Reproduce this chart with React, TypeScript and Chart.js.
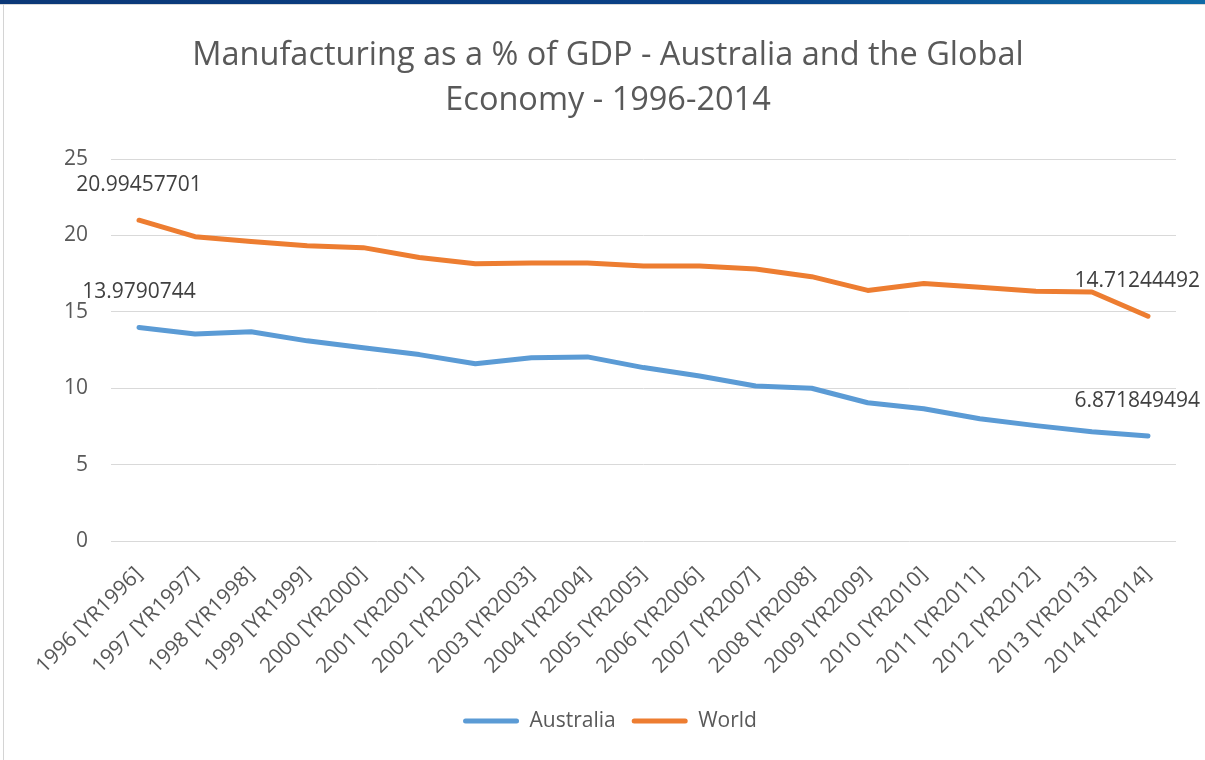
import React, { useEffect, useRef } from "react";
import { Chart, registerables } from "chart.js";

Chart.register(...registerables);

const categories = [
  "1996 [YR1996]", "1997 [YR1997]", "1998 [YR1998]", "1999 [YR1999]", "2000 [YR2000]",
  "2001 [YR2001]", "2002 [YR2002]", "2003 [YR2003]", "2004 [YR2004]", "2005 [YR2005]",
  "2006 [YR2006]", "2007 [YR2007]", "2008 [YR2008]", "2009 [YR2009]", "2010 [YR2010]",
  "2011 [YR2011]", "2012 [YR2012]", "2013 [YR2013]", "2014 [YR2014]",
];

const australia = [
  13.9790744, 13.55, 13.7, 13.1, 12.65, 12.2, 11.6, 12.0, 12.05, 11.35,
  10.8, 10.15, 10.0, 9.05, 8.65, 8.0, 7.55, 7.15, 6.871849494,
];

const world = [
  20.99457701, 19.92, 19.6, 19.33, 19.2, 18.55, 18.15, 18.2, 18.2, 18.0,
  18.0, 17.8, 17.3, 16.4, 16.85, 16.6, 16.35, 16.3, 14.71244492,
];

const endLabels = [
  ["13.9790744", "6.871849494"],
  ["20.99457701", "14.71244492"],
];

const titleLines = ["Manufacturing as a % of GDP - Australia and the Global", "Economy - 1996-2014"];

const FONT = "'Open Sans', 'Noto Sans', sans-serif";

const endLabelPlugin = {
  id: "endLabels",
  afterDatasetsDraw(chart: any) {
    const ctx = chart.ctx;
    ctx.save();
    ctx.font = `21px ${FONT}`;
    ctx.fillStyle = "#404040";
    ctx.textAlign = "center";
    ctx.textBaseline = "middle";
    chart.data.datasets.forEach((ds: any, di: number) => {
      const meta = chart.getDatasetMeta(di);
      const n = meta.data.length;
      [0, n - 1].forEach((idx, k) => {
        const pt = meta.data[idx];
        const text = endLabels[di][k];
        const w = ctx.measureText(text).width;
        let x = pt.x;
        if (x + w / 2 > 1200) x = 1200 - w / 2;
        ctx.fillText(text, x, pt.y - 35);
      });
    });
    ctx.restore();
  },
};

const shiftPlugin = {
  id: "shiftBoxes",
  afterLayout(chart: any) {
    if (chart.legend) {
      chart.legend.left += 22;
      chart.legend.right += 22;
    }
    if (chart.titleBlock) {
      chart.titleBlock.left += 20;
      chart.titleBlock.right += 20;
    }
  },
};

export default function App() {
  const ref = useRef<HTMLCanvasElement>(null);
  useEffect(() => {
    const chart = new Chart(ref.current!, {
      type: "line",
      data: {
        labels: categories,
        datasets: [
          {
            label: "Australia",
            data: australia,
            borderColor: "#5B9BD5",
            backgroundColor: "#5B9BD5",
            borderWidth: 5,
            pointRadius: 0,
            borderCapStyle: "round",
            borderJoinStyle: "round",
            tension: 0,
          },
          {
            label: "World",
            data: world,
            borderColor: "#ED7D31",
            backgroundColor: "#ED7D31",
            borderWidth: 5,
            pointRadius: 0,
            borderCapStyle: "round",
            borderJoinStyle: "round",
            tension: 0,
          },
        ],
      },
      options: {
        animation: false,
        responsive: false,
        layout: { padding: { top: 0, left: 0, right: 29, bottom: 18.5 } },
        plugins: {
          title: {
            display: true,
            text: titleLines,
            color: "#595959",
            font: { family: FONT, size: 32.5, weight: "normal", lineHeight: 1.385 },
            padding: { top: 33, bottom: 36 },
          },
          legend: {
            position: "bottom",
            labels: {
              color: "#595959",
              font: { family: FONT, size: 21 },
              boxWidth: 56,
              boxHeight: 5,
              padding: 16,
              useBorderRadius: true,
              borderRadius: 2.5,
              generateLabels(chart: any) {
                return chart.data.datasets.map((ds: any, i: number) => ({
                  text: ds.label,
                  fillStyle: ds.borderColor,
                  strokeStyle: ds.borderColor,
                  lineWidth: 0,
                  fontColor: "#595959",
                  borderRadius: 2.5,
                  datasetIndex: i,
                  hidden: false,
                }));
              },
            },
          },
          tooltip: { enabled: false },
        },
        scales: {
          x: {
            offset: true,
            grid: { display: false, drawTicks: false },
            border: { display: false },
            ticks: {
              color: "#595959",
              font: { family: FONT, size: 21 },
              minRotation: 45,
              maxRotation: 45,
              autoSkip: false,
              padding: 21,
            },
            afterFit(scale: any) {
              scale.height = 153.5;
            },
          },
          y: {
            min: 0,
            max: 25,
            grid: { color: "#D9D9D9", lineWidth: 1, drawTicks: false },
            border: { display: false },
            ticks: {
              stepSize: 5,
              color: "#595959",
              font: { family: FONT, size: 21 },
              padding: 23,
            },
            afterFit(scale: any) {
              scale.width = 111;
            },
          },
        },
      },
      plugins: [endLabelPlugin, shiftPlugin],
    });
    return () => chart.destroy();
  }, []);

  return (
    <div style={{ position: "fixed", left: 0, top: 0, width: 1205, height: 760, background: "#fff", overflow: "hidden" }}>
      <div style={{ position: "absolute", left: 0, top: 0, width: 1205, height: 4, background: "linear-gradient(90deg, #0b3877 0%, #0a4187 60%, #0f6aa6 100%)" }} />
      <div style={{ position: "absolute", left: 0, top: 4, width: 1205, height: 1, background: "#d9d9d9" }} />
      <div style={{ position: "absolute", left: 3, top: 4, width: 1, height: 756, background: "#d4d4d4" }} />
      <canvas ref={ref} width={1205} height={760} style={{ position: "absolute", left: 0, top: 0 }} />
    </div>
  );
}
